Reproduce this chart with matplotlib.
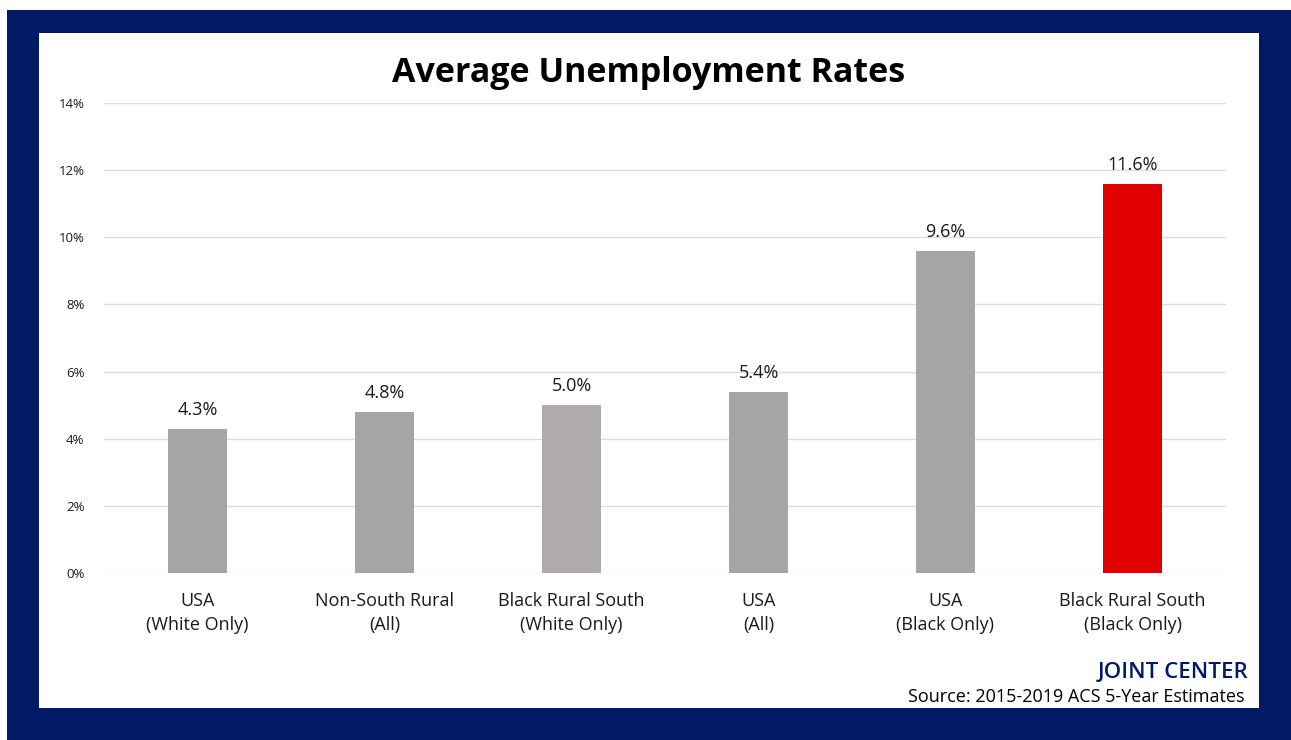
import matplotlib
matplotlib.use("Agg")
import matplotlib.pyplot as plt
from matplotlib.patches import Rectangle

categories = ["USA\n(White Only)", "Non-South Rural\n(All)", "Black Rural South\n(White Only)",
              "USA\n(All)", "USA\n(Black Only)", "Black Rural South\n(Black Only)"]
values = [4.3, 4.8, 5.0, 5.4, 9.6, 11.6]
value_labels = ["4.3%", "4.8%", "5.0%", "5.4%", "9.6%", "11.6%"]
bar_colors = ["#A5A5A5", "#A5A5A5", "#AFABAB", "#A5A5A5", "#A5A5A5", "#E00000"]
yticks = [0, 2, 4, 6, 8, 10, 12, 14]
ytick_labels = ["0%", "2%", "4%", "6%", "8%", "10%", "12%", "14%"]

W, H = 1291, 740
fig = plt.figure(figsize=(W / 100, H / 100), dpi=100)
fig.patch.set_facecolor("white")
navy = "#001A66"

# navy frame and white panel
fig.patches.append(Rectangle((7 / W, 0), (W - 7) / W, (H - 10) / H, transform=fig.transFigure,
                             facecolor=navy, edgecolor="none", zorder=0))
fig.patches.append(Rectangle((39 / W, (H - 708) / H), (1259 - 39) / W, (708 - 33) / H,
                             transform=fig.transFigure, facecolor="white", edgecolor="none", zorder=1))

left, right = 104, 1226
top, bottom = 103, 573
ax = fig.add_axes([left / W, (H - bottom) / H, (right - left) / W, (bottom - top) / H])
ax.set_zorder(2)
ax.set_facecolor("none")

x = list(range(len(values)))
ax.bar(x, values, width=0.315, color=bar_colors, zorder=3)
for xi, v, lab in zip(x, values, value_labels):
    ax.annotate(lab, (xi, v), xytext=(0, 7), textcoords="offset points", ha="center", va="bottom",
                fontsize=13, family="Open Sans", color="#1a1a1a")

ax.set_xlim(-0.5, len(values) - 0.5)
ax.set_ylim(0, 14)
ax.set_yticks(yticks)
ax.set_yticklabels(ytick_labels, fontsize=9.5, family="Open Sans", color="#1a1a1a")
ax.set_xticks(x)
ax.set_xticklabels(categories, fontsize=13, family="Open Sans", color="#1a1a1a", linespacing=1.4)
ax.tick_params(axis="both", length=0)
ax.tick_params(axis="y", pad=14)
ax.tick_params(axis="x", pad=14)
ax.grid(axis="y", color="#DCDCDC", linewidth=1.0, zorder=0)
for s in ax.spines.values():
    s.set_visible(False)

fig.text(649 / W, 1 - 73 / H, "Average Unemployment Rates", ha="center", va="center",
         fontsize=24.5, fontweight="bold", family="Open Sans", color="black")
fig.text(1248 / W, 1 - 673 / H, "JOINT CENTER", ha="right", va="center",
         fontsize=16, family="Open Sans", color=navy, fontweight=600)
fig.text(1245 / W, 1 - 697 / H, "Source: 2015-2019 ACS 5-Year Estimates", ha="right", va="center",
         fontsize=13, family="Open Sans", color="black")

fig.savefig("out.png", dpi=100)
